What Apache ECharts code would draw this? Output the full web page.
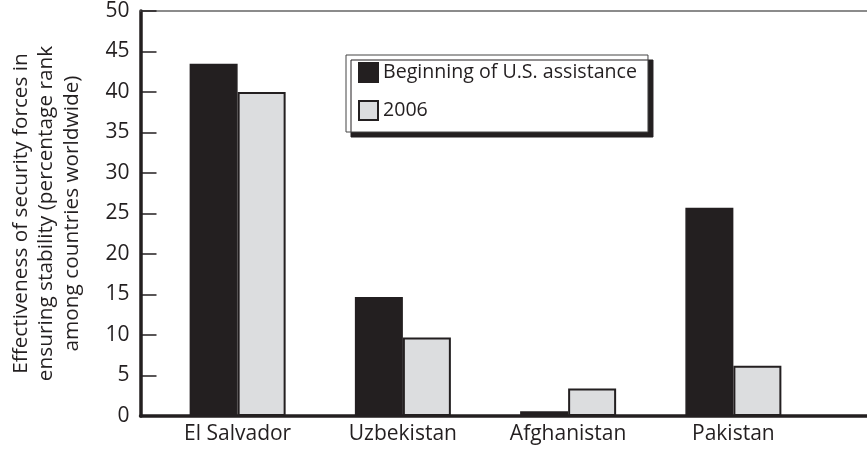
<!DOCTYPE html>
<html>
<head>
<meta charset="utf-8">
<script src="https://cdn.jsdelivr.net/npm/echarts@6/dist/echarts.min.js"></script>
<style>
  html, body { margin: 0; padding: 0; background: #fff; }
  #chart { width: 867px; height: 450px; }
</style>
</head>
<body>
<div id="chart"></div>
<script>
const categories = ['El Salvador', 'Uzbekistan', 'Afghanistan', 'Pakistan'];
const seriesNames = ['Beginning of U.S. assistance', '2006'];
const beginningValues = [43.5, 14.7, 0.6, 25.7];
const values2006 = [40.0, 9.7, 3.4, 6.2];
const yAxisTitle = 'Effectiveness of security forces in\nensuring stability (percentage rank\namong countries worldwide)';

const FONT = '"Open Sans", "Noto Sans", sans-serif';
const INK = '#231f20';
const GRAY = '#dcdddf';

const chart = echarts.init(document.getElementById('chart'), null, { renderer: 'canvas' });

chart.setOption({
  backgroundColor: '#ffffff',
  animation: false,
  textStyle: { fontFamily: FONT, color: INK },
  grid: [
    { left: 134, right: 0, top: 11, bottom: 34, containLabel: false },
    { left: 155, right: 51, top: 11, bottom: 34, containLabel: false }
  ],
  legend: {
    data: seriesNames,
    orient: 'vertical',
    left: 346,
    top: 55,
    padding: [7, 11, 11, 12],
    itemWidth: 19,
    itemHeight: 19,
    itemGap: 17,
    icon: 'rect',
    backgroundColor: '#ffffff',
    borderColor: '#444',
    borderWidth: 1,
    borderRadius: 0,
    shadowColor: INK,
    shadowBlur: 0,
    shadowOffsetX: 5,
    shadowOffsetY: 5,
    textStyle: { fontFamily: FONT, fontSize: 19.6, color: INK, lineHeight: 19 }
  },
  xAxis: [
    {
      type: 'category', gridIndex: 0, position: 'bottom', data: [''],
      axisLine: { show: true, lineStyle: { color: INK, width: 3.5 } },
      axisTick: { show: false }, axisLabel: { show: false }, splitLine: { show: false }
    },
    {
      type: 'category', gridIndex: 0, position: 'top', data: [''],
      axisLine: { show: true, lineStyle: { color: '#666', width: 1.5 } },
      axisTick: { show: false }, axisLabel: { show: false }, splitLine: { show: false }
    },
    {
      type: 'category', gridIndex: 1, position: 'bottom', data: categories,
      axisLine: { show: false }, axisTick: { show: false }, splitLine: { show: false },
      axisLabel: { fontFamily: FONT, fontSize: 21, color: INK, margin: 8 }
    }
  ],
  yAxis: [
    {
      type: 'value', gridIndex: 0, min: 0, max: 50, interval: 5,
      axisLine: { show: true, lineStyle: { color: INK, width: 3.5 } },
      axisTick: { show: true, inside: true, length: 16, lineStyle: { color: INK, width: 1.5 } },
      axisLabel: { fontFamily: FONT, fontSize: 21, color: INK, margin: 11 },
      splitLine: { show: false },
      name: yAxisTitle,
      nameLocation: 'middle',
      nameGap: 56,
      nameRotate: 90,
      nameTextStyle: { fontFamily: FONT, fontSize: 20.8, color: INK, lineHeight: 25.5, align: 'center' }
    },
    {
      type: 'value', gridIndex: 1, min: 0, max: 50, interval: 5, show: false
    }
  ],
  series: [
    {
      name: seriesNames[0], type: 'bar', xAxisIndex: 2, yAxisIndex: 1,
      data: beginningValues, barWidth: 48, barGap: '0%',
      itemStyle: { color: INK, borderColor: INK, borderWidth: 1.5 },
      z: 2
    },
    {
      name: seriesNames[1], type: 'bar', xAxisIndex: 2, yAxisIndex: 1,
      data: values2006, barWidth: 48, barGap: '0%',
      itemStyle: { color: GRAY, borderColor: INK, borderWidth: 2 },
      z: 2
    }
  ]
});
</script>
</body>
</html>
